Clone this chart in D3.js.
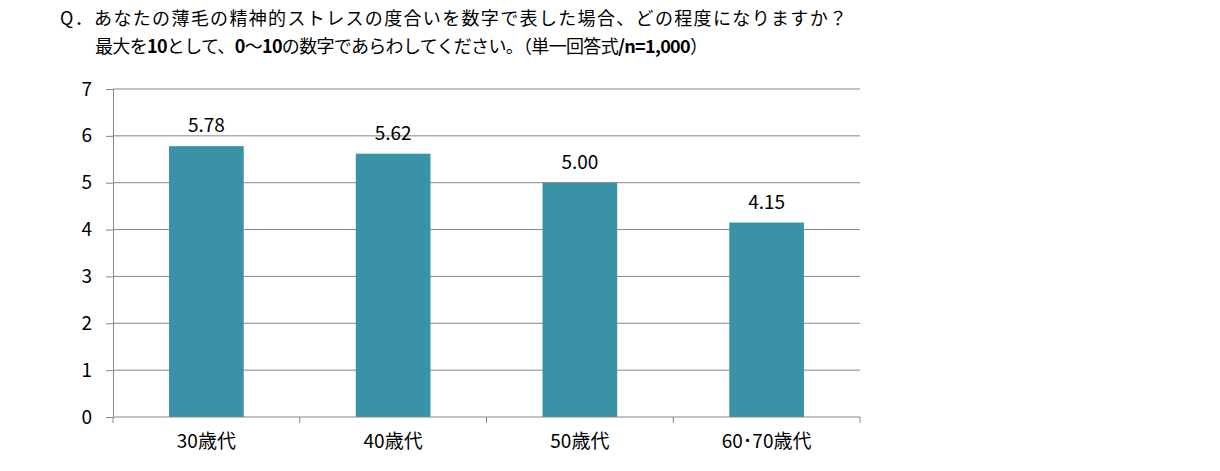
<!DOCTYPE html>
<html>
<head>
<meta charset="utf-8">
<script src="https://cdn.jsdelivr.net/npm/d3@7"></script>
<style>
  body { margin: 0; background: #fff; }
  svg text { font-family: "Noto Sans CJK JP", "Noto Sans", sans-serif; fill: #000; }
</style>
</head>
<body>
<div id="chart"></div>
<script>
var categories = ["30歳代", "40歳代", "50歳代", "60･70歳代"];
var values = [5.78, 5.62, 5.00, 4.15];
var yTicks = [0, 1, 2, 3, 4, 5, 6, 7];

var width = 1220, height = 471;
var margin = { left: 113, right: 360, top: 89, bottom: 54 };

var svg = d3.select("#chart").append("svg")
    .attr("width", width)
    .attr("height", height);

// title, two lines, some runs in bold
svg.append("text").attr("x", 60).attr("y", 25)
    .style("font-size", "18px")
    .attr("textLength", 787).attr("lengthAdjust", "spacing")
    .text("Q．あなたの薄毛の精神的ストレスの度合いを数字で表した場合、どの程度になりますか？");

var title2 = svg.append("text").attr("x", 95).attr("y", 53)
    .style("font-size", "18px")
    .attr("textLength", 613).attr("lengthAdjust", "spacing");
[["最大を", 400], ["10", 700], ["として、", 400], ["0", 700], ["～", 400], ["10", 700],
 ["の数字であらわしてください。（単一回答式", 400], ["/n=1,000", 700], ["）", 400]]
    .forEach(function (p) { title2.append("tspan").attr("font-weight", p[1]).text(p[0]); });

var x = d3.scaleBand()
    .domain(categories)
    .range([margin.left, width - margin.right])
    .paddingInner(0.6)
    .paddingOuter(0.3);

var y = d3.scaleLinear()
    .domain([0, 7])
    .range([height - margin.bottom, margin.top]);

// gridlines
svg.append("g").selectAll("line")
    .data(yTicks.filter(function (t) { return t > 0; }))
    .enter().append("line")
    .attr("x1", margin.left).attr("x2", width - margin.right)
    .attr("y1", function (d) { return y(d); })
    .attr("y2", function (d) { return y(d); })
    .attr("stroke", "#868686").attr("stroke-width", 1);

// bars
svg.append("g").selectAll("rect")
    .data(values)
    .enter().append("rect")
    .attr("x", function (d, i) { return x(categories[i]); })
    .attr("width", x.bandwidth())
    .attr("y", function (d) { return y(d); })
    .attr("height", function (d) { return y(0) - y(d); })
    .attr("fill", "#3A92A8");

// value labels
svg.append("g").selectAll("text")
    .data(values)
    .enter().append("text")
    .attr("x", function (d, i) { return x(categories[i]) + x.bandwidth() / 2; })
    .attr("y", function (d) { return y(d) - 14; })
    .attr("text-anchor", "middle")
    .style("font-size", "19px")
    .text(function (d) { return d.toFixed(2); });

// y axis
var yAxis = svg.append("g")
    .attr("transform", "translate(" + margin.left + ",0)")
    .call(d3.axisLeft(y).tickValues(yTicks).tickFormat(d3.format("d")).tickSize(7).tickPadding(14));
yAxis.selectAll("text").style("font-size", "19px").attr("font-family", null);
yAxis.selectAll("line, path").attr("stroke", "#868686");

// x axis: ticks at category boundaries
var xAxis = svg.append("g")
    .attr("transform", "translate(0," + y(0) + ")");
xAxis.append("line")
    .attr("x1", margin.left).attr("x2", width - margin.right)
    .attr("stroke", "#868686");
var step = (width - margin.right - margin.left) / categories.length;
xAxis.selectAll(".tk")
    .data(d3.range(categories.length + 1))
    .enter().append("line")
    .attr("class", "tk")
    .attr("x1", function (d) { return margin.left + d * step; })
    .attr("x2", function (d) { return margin.left + d * step; })
    .attr("y1", 0).attr("y2", 6)
    .attr("stroke", "#868686");
xAxis.selectAll(".lbl")
    .data(categories)
    .enter().append("text")
    .attr("class", "lbl")
    .attr("x", function (d) { return x(d) + x.bandwidth() / 2; })
    .attr("y", 31)
    .attr("text-anchor", "middle")
    .style("font-size", "19px")
    .text(function (d) { return d; });
</script>
</body>
</html>
